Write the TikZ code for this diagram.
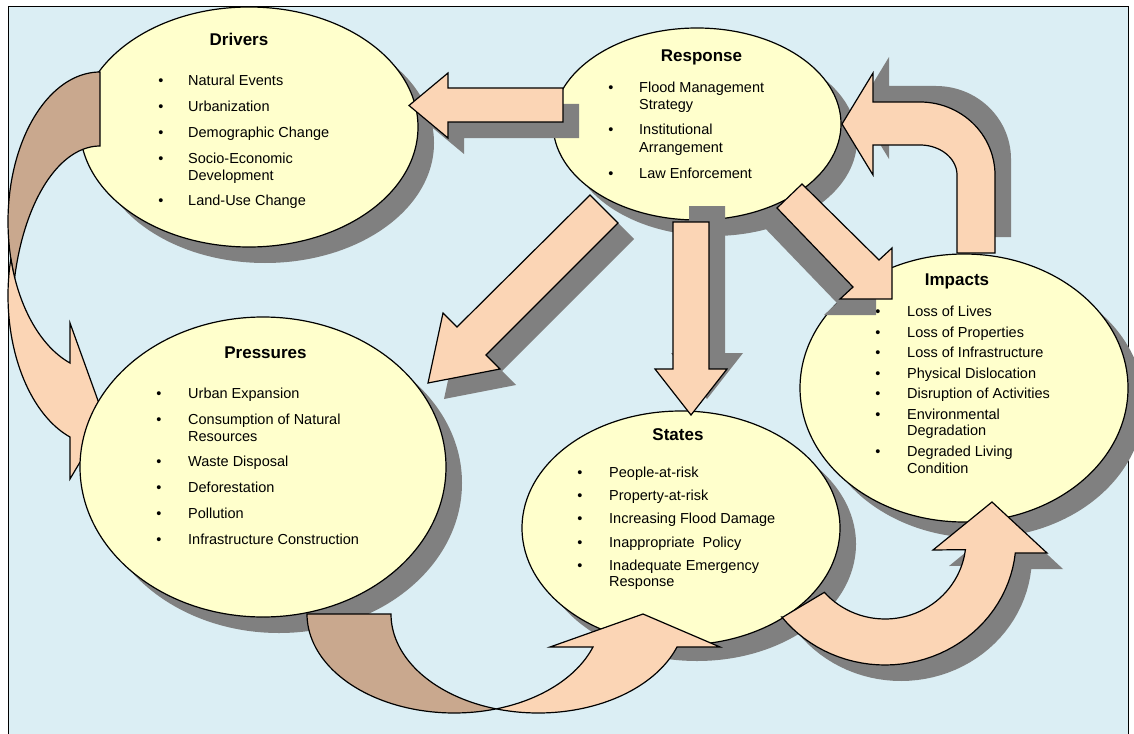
\documentclass[tikz,border=0pt]{standalone}
\usepackage{fontspec}
\setmainfont{Liberation Sans}
\usetikzlibrary{shapes.geometric}

\definecolor{bgblue}{RGB}{219,238,244}
\definecolor{ellfill}{RGB}{255,255,204}
\definecolor{peach}{RGB}{251,213,181}
\definecolor{backtan}{RGB}{201,168,142}
\definecolor{shadowgray}{RGB}{128,128,128}

% outlines of the block arrows (pixel-like units, y pointing down)
\newcommand\pathRespDrv{(563,88) -- (448,88) -- (448,73) -- (409,105.5) -- (448,138) -- (448,122) -- (563,122) -- cycle}
\newcommand\pathRespPrs{(590,195) -- (618,223) -- (486,355) -- (500,369) -- (428,383) -- (443,313) -- (457,327) -- cycle}
\newcommand\pathRespSt{(673,222) -- (709,222) -- (709,369) -- (727,369) -- (691,415) -- (655,369) -- (673,369) -- cycle}
\newcommand\pathRespImp{(802,184) -- (879,260) -- (892,248) -- (892,299) -- (840,299) -- (853,287) -- (777,208) -- cycle}
\newcommand\pathImpResp{(957,253) -- (957,175)
  -- plot[variable=\t,domain=0:-90,samples=30] ({920+37*cos(\t)},{175+30*sin(\t)})
  -- (873,145) -- (873,175) -- (842,124) -- (873,73) -- (873,102)
  -- plot[variable=\t,domain=-90:0,samples=30] ({920+75*cos(\t)},{175+73*sin(\t)})
  -- (995,253) -- cycle}
\newcommand\pathStImp{(783,617)
  -- plot[variable=\t,domain=138.5:7,samples=40] ({885+81*cos(\t)},{540+79*sin(\t)})
  -- (933,550) -- (992,502) -- (1047,553)
  -- plot[variable=\t,domain=6:142,samples=40] ({885+131*cos(\t)},{540+125*sin(\t)})
  -- cycle}
% curved arrow from Drivers to Pressures: back side and front side
\newcommand\pathDrvBack{plot[variable=\t,domain=-90:-196.5,samples=50] ({100+92*cos(\t)},{221.6+149.6*sin(\t)})
  -- plot[variable=\t,domain=-166.5:-90,samples=50] ({100+88*cos(\t)},{320+174*sin(\t)}) -- cycle}
\newcommand\pathDrvFront{plot[variable=\t,domain=194.3:109,samples=50] ({100+92*cos(\t)},{295.6+149.6*sin(\t)})
  -- (70,479) -- (105,420) -- (70,323)
  -- plot[variable=\t,domain=109:165.7,samples=50] ({100+92*cos(\t)},{221.6+149.6*sin(\t)}) -- cycle}
% curved arrow from Pressures to States: back side and front side
\newcommand\pathPrsBack{plot[variable=\t,domain=180:73.4,samples=50] ({454.2+147.2*cos(\t)},{614+99*sin(\t)})
  -- plot[variable=\t,domain=106.6:180,samples=50] ({538.2+147.2*cos(\t)},{614+99*sin(\t)}) -- cycle}
\newcommand\pathPrsFront{plot[variable=\t,domain=106.6:19.5,samples=50] ({538.2+147.2*cos(\t)},{614+99*sin(\t)})
  -- (720,647) -- (643,614) -- (550,647)
  -- plot[variable=\t,domain=19.5:73.4,samples=50] ({454.2+147.2*cos(\t)},{614+99*sin(\t)}) -- cycle}

\begin{document}
\begin{tikzpicture}[x=1pt,y=-1pt,
  ell/.style={ellipse, draw=black, line width=1.2pt, fill=ellfill, inner sep=0pt},
  ellshadow/.style={ellipse, fill=shadowgray, inner sep=0pt},
  shd/.style={fill=shadowgray},
  blockarrow/.style={draw=black, line width=1.2pt, fill=peach, line join=miter},
  backside/.style={draw=black, line width=1.2pt, fill=backtan, line join=miter},
  ttl/.style={font=\fontsize{17}{20}\selectfont\bfseries, anchor=base, inner sep=0pt},
  itm/.style={font=\fontsize{14.5}{17}\selectfont, anchor=base west, inner sep=0pt},
  bul/.style={font=\fontsize{14.5}{17}\selectfont, anchor=base, inner sep=0pt}]

\useasboundingbox (0,0) rectangle (1134,733);
\clip (0,0) rectangle (1134,733);
\fill[white] (0,0) rectangle (1134,733);
\draw[fill=bgblue, line width=1pt] (8,7) rectangle (1128,760);

% ---- Drivers ----
\node[ellshadow, minimum width=338pt, minimum height=240pt] (drivers-sh) at (265,143) {};
\node[ell, minimum width=338pt, minimum height=240pt] (drivers) at (249,127) {};
\node[ttl] (drivers-title) at (239,46) {Drivers};
\foreach \yy/\tx/\bb [count=\i] in {86/Natural Events/1, 112/Urbanization/1,
    138/Demographic Change/1, 163/Socio-Economic/1, 180/Development/0, 205/Land-Use Change/1}{
  \node[itm] (drivers-t\i) at (188,\yy) {\tx};
  \ifnum\bb=1 \node[bul] (drivers-b\i) at (161,\yy) {•};\fi
}

% ---- curved arrow Drivers -> Pressures ----
\path[backside] \pathDrvBack;
\path[blockarrow] \pathDrvFront;

% ---- Pressures ----
\node[ellshadow, minimum width=366pt, minimum height=300pt] (pressures-sh) at (279,483) {};
\node[ell, minimum width=366pt, minimum height=300pt] (pressures) at (263,467) {};
\node[ttl] (pressures-title) at (265.5,358) {Pressures};
\foreach \yy/\tx/\bb [count=\i] in {398/Urban Expansion/1, 424/Consumption of Natural/1,
    441/Resources/0, 466/Waste Disposal/1, 492/Deforestation/1, 518/Pollution/1,
    544/Infrastructure Construction/1}{
  \node[itm] (pressures-t\i) at (188,\yy) {\tx};
  \ifnum\bb=1 \node[bul] (pressures-b\i) at (159,\yy) {•};\fi
}

% ---- Response ----
\node[ellshadow, minimum width=288pt, minimum height=192pt] (response-sh) at (713,140) {};
\node[ell, minimum width=288pt, minimum height=192pt] (response) at (697,124) {};
\node[ttl] (response-title) at (701.5,62) {Response};
\foreach \yy/\tx/\bb [count=\i] in {93/Flood Management/1, 110/Strategy/0,
    135/Institutional/1, 152/Arrangement/0, 178/Law Enforcement/1}{
  \node[itm] (response-t\i) at (639,\yy) {\tx};
  \ifnum\bb=1 \node[bul] (response-b\i) at (611,\yy) {•};\fi
}

% ---- Impacts ----
\node[ellshadow, minimum width=328pt, minimum height=268pt] (impacts-sh) at (980,404) {};
\node[ell, minimum width=328pt, minimum height=268pt] (impacts) at (964,388) {};
\node[ttl] (impacts-title) at (957,285) {Impacts};
\foreach \yy/\tx/\bb [count=\i] in {316/Loss of Lives/1, 337/Loss of Properties/1,
    357/Loss of Infrastructure/1, 378/Physical Dislocation/1, 398/Disruption of Activities/1,
    419/Environmental/1, 435/Degradation/0, 456/Degraded Living/1, 473/Condition/0}{
  \node[itm] (impacts-t\i) at (907,\yy) {\tx};
  \ifnum\bb=1 \node[bul] (impacts-b\i) at (878,\yy) {•};\fi
}

% ---- States ----
\node[ellshadow, minimum width=318pt, minimum height=234pt] (states-sh) at (697,544) {};
\node[ell, minimum width=318pt, minimum height=234pt] (states) at (681,528) {};
\node[ttl] (states-title) at (678,440) {States};
\foreach \yy/\tx/\bb [count=\i] in {477/People-at-risk/1, 500/Property-at-risk/1,
    523/Increasing Flood Damage/1, 547/Inappropriate\ \ Policy/1,
    570/Inadequate Emergency/1, 586/Response/0}{
  \node[itm] (states-t\i) at (609,\yy) {\tx};
  \ifnum\bb=1 \node[bul] (states-b\i) at (580,\yy) {•};\fi
}

% ---- straight block arrows leaving Response ----
\path[shd, shift={(16,16)}] \pathRespDrv;
\path[blockarrow] \pathRespDrv;
\path[shd, shift={(16,16)}] \pathRespPrs;
\path[blockarrow] \pathRespPrs;
\path[shd, shift={(16,-16)}] \pathRespSt;
\path[blockarrow] \pathRespSt;
\path[shd, shift={(-16,16)}] \pathRespImp;
\path[blockarrow] \pathRespImp;

% ---- bent arrow Impacts -> Response ----
\path[shd, shift={(16,-16)}] \pathImpResp;
\path[blockarrow] \pathImpResp;

% ---- curved arrow States -> Impacts ----
\path[shd, shift={(16,16)}] \pathStImp;
\path[blockarrow] \pathStImp;

% ---- curved arrow Pressures -> States ----
\path[backside] \pathPrsBack;
\path[blockarrow] \pathPrsFront;

\end{tikzpicture}
\end{document}
